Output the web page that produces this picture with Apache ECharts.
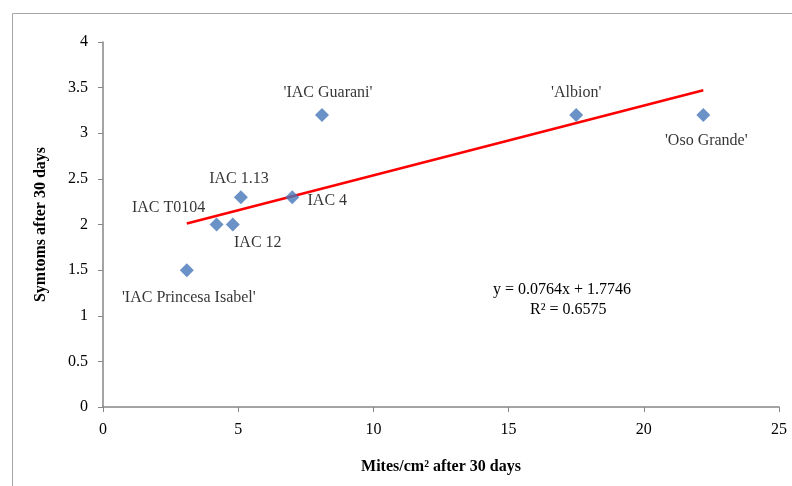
<!DOCTYPE html>
<html>
<head>
<meta charset="utf-8">
<script src="https://cdn.jsdelivr.net/npm/echarts@6/dist/echarts.min.js"></script>
<style>
  html, body { margin: 0; padding: 0; background: #fff; }
  #chart { width: 792px; height: 486px; }
</style>
</head>
<body>
<div id="chart"></div>
<script>
  // cultivars, mites/cm2 and symptoms
  var names = ["'IAC Princesa Isabel'", 'IAC T0104', 'IAC 12', 'IAC 1.13', 'IAC 4', "'IAC Guarani'", "'Albion'", "'Oso Grande'"];
  var mites = [3.1, 4.2, 4.8, 5.1, 7.0, 8.1, 17.5, 22.2];
  var symptoms = [1.5, 2.0, 2.0, 2.3, 2.3, 3.2, 3.2, 3.2];
  // label offsets [dx, dy] per point
  var labelOffsets = [[2, 28], [-48, -17], [25, 18], [-2, -18], [35, 4], [6, -22], [0, -22], [3, 26]];
  // trend line endpoints
  var trendX = [3.1, 22.2];
  var trendY = [2.011, 3.471];
  var xTicks = [0, 25];
  var yTicks = [0, 4];

  var fontFam = '"Liberation Serif", "Times New Roman", serif';
  var axisColor = '#868686';

  var points = [];
  mites.forEach(function (x, i) {
    points.push({
      value: [x, symptoms[i]],
      name: names[i],
      label: { offset: labelOffsets[i] }
    });
  });

  var option = {
    backgroundColor: '#fff',
    animation: false,
    grid: { left: 103, right: 13, top: 42, bottom: 79 },
    xAxis: {
      type: 'value',
      min: xTicks[0], max: xTicks[1], interval: 5,
      name: 'Mites/cm² after 30 days',
      nameLocation: 'middle',
      nameGap: 52,
      nameTextStyle: { fontFamily: fontFam, fontSize: 16, fontWeight: 'bold', color: '#000' },
      axisLine: { show: true, lineStyle: { color: axisColor, width: 1.5 } },
      axisTick: { show: true, length: 5, lineStyle: { color: axisColor } },
      axisLabel: { fontFamily: fontFam, fontSize: 16, color: '#000', margin: 15 },
      splitLine: { show: false }
    },
    yAxis: {
      type: 'value',
      min: yTicks[0], max: yTicks[1], interval: 0.5,
      name: 'Symtoms after 30 days',
      nameLocation: 'middle',
      nameGap: 54,
      nameTextStyle: { fontFamily: fontFam, fontSize: 16, fontWeight: 'bold', color: '#000' },
      axisLine: { show: true, lineStyle: { color: axisColor, width: 1.5 } },
      axisTick: { show: true, length: 5, lineStyle: { color: axisColor } },
      axisLabel: { fontFamily: fontFam, fontSize: 16, color: '#000', margin: 15 },
      splitLine: { show: false }
    },
    series: [{
      type: 'line',
      data: [[trendX[0], trendY[0]], [trendX[1], trendY[1]]],
      showSymbol: false,
      lineStyle: { color: '#ff0000', width: 2.5 },
      z: 3
    }, {
      type: 'scatter',
      symbol: 'diamond',
      symbolSize: [14, 14],
      itemStyle: { color: '#4677b8' },
      data: points,
      z: 4,
      label: {
        show: true,
        position: 'inside',
        formatter: '{b}',
        fontFamily: fontFam,
        fontSize: 16,
        color: '#000'
      }
    }],
    graphic: [{
      type: 'rect',
      shape: { x: 12.5, y: 13.5, width: 800, height: 500 },
      style: { fill: 'none', stroke: '#a6a6a6', lineWidth: 1 },
      silent: true
    }, {
      type: 'text',
      left: 493, top: 282,
      style: { text: 'y = 0.0764x + 1.7746', font: '16px ' + fontFam, fill: '#000' }
    }, {
      type: 'text',
      left: 530, top: 302,
      style: { text: 'R² = 0.6575', font: '16px ' + fontFam, fill: '#000' }
    }]
  };

  var myChart = echarts.init(document.getElementById('chart'));
  myChart.setOption(option);
</script>
</body>
</html>
